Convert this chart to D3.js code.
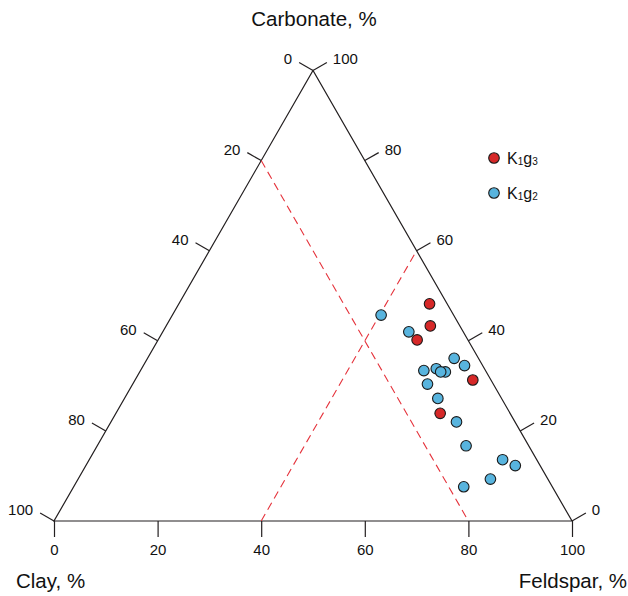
<!DOCTYPE html>
<html>
<head>
<meta charset="utf-8">
<script src="https://cdn.jsdelivr.net/npm/d3@7"></script>
<style>
  body { margin: 0; background: #fff; }
  svg { display: block; font-family: Arial, "Liberation Sans", sans-serif; }
</style>
</head>
<body>
<div id="chart"></div>
<script>
// [clay, feldspar, carbonate] in %
const k1g3 = [
  [3.4, 48.4, 48.2],
  [5.7, 51.0, 43.3],
  [9.8, 50.0, 40.2],
  [3.5, 65.2, 31.3],
  [13.5, 62.6, 23.9]
];
const k1g2 = [
  [14.0, 40.3, 45.7],
  [10.5, 47.5, 42.0],
  [4.7, 59.2, 36.1],
  [3.5, 62.0, 34.5],
  [11.9, 54.7, 33.4],
  [9.3, 56.9, 33.8],
  [7.9, 59.0, 33.1],
  [8.8, 58.1, 33.1],
  [12.7, 56.9, 30.4],
  [12.3, 60.5, 27.2],
  [11.3, 66.7, 22.0],
  [12.1, 71.2, 16.7],
  [6.6, 79.8, 13.6],
  [4.8, 82.9, 12.3],
  [11.1, 79.6, 9.3],
  [17.1, 75.3, 7.6]
];
const tickValues = [0, 20, 40, 60, 80, 100];
const clayGuide = 20;      // dashed line clay = 20
const feldsparGuide = 40;  // dashed line feldspar = 40

const width = 628, height = 596;
const svg = d3.select('#chart').append('svg').attr('width', width).attr('height', height);

// base: feldspar axis, height: carbonate
const xScale = d3.scaleLinear().domain([0, 100]).range([54, 572]);
const yScale = d3.scaleLinear().domain([0, 100]).range([521, 70.5]);

function proj(f, c) {
  return [xScale(f + c / 2), yScale(c)];
}

const lineColor = '#231f20';
const tickLen = 16;

// triangle
svg.append('path')
  .attr('d', d3.line()([proj(0, 0), proj(100, 0), proj(0, 100)]) + 'Z')
  .attr('fill', 'none').attr('stroke', lineColor).attr('stroke-width', 1.2);

// dashed guides
const guides = [
  [proj(0, 100 - clayGuide), proj(100 - clayGuide, 0)],
  [proj(feldsparGuide, 0), proj(feldsparGuide, 100 - feldsparGuide)]
];
svg.selectAll('.guide').data(guides).enter().append('path')
  .attr('class', 'guide')
  .attr('d', d => d3.line()(d))
  .attr('fill', 'none').attr('stroke', '#e5323b').attr('stroke-width', 1.1)
  .attr('stroke-dasharray', '8,5');

// bottom axis (feldspar)
const xAxis = d3.axisBottom(xScale).tickValues(tickValues).tickSize(tickLen).tickSizeOuter(0).tickPadding(7);
const gx = svg.append('g').attr('transform', 'translate(0,521)').call(xAxis);
gx.select('.domain').remove();
gx.selectAll('line').attr('stroke', lineColor).attr('stroke-width', 1.2);
gx.selectAll('text').attr('font-size', 15).attr('fill', '#111').attr('font-family', 'Arial, "Liberation Sans", sans-serif');

// side ticks
function sideAxis(points, normal, anchor, dx) {
  const g = svg.append('g');
  points.forEach(p => {
    const end = [p.pt[0] + normal[0] * tickLen, p.pt[1] + normal[1] * tickLen];
    g.append('line')
      .attr('x1', p.pt[0]).attr('y1', p.pt[1]).attr('x2', end[0]).attr('y2', end[1])
      .attr('stroke', lineColor).attr('stroke-width', 1.2);
    g.append('text')
      .attr('x', end[0] + dx).attr('y', end[1] - 2)
      .attr('text-anchor', anchor).attr('dominant-baseline', 'middle')
      .attr('font-size', 15).attr('fill', '#111')
      .text(p.label);
  });
}
const A = proj(0, 0), B = proj(100, 0), C = proj(0, 100);
function unit(v) { const l = Math.hypot(v[0], v[1]); return [v[0] / l, v[1] / l]; }
const leftDir = unit([C[0] - A[0], C[1] - A[1]]);
const rightDir = unit([C[0] - B[0], C[1] - B[1]]);
const leftNormal = [leftDir[1], -leftDir[0]];
const rightNormal = [-rightDir[1], rightDir[0]];

// left: clay
sideAxis(tickValues.map(v => ({pt: proj(0, 100 - v), label: v})), leftNormal, 'end', -7);
// right: carbonate
sideAxis(tickValues.map(v => ({pt: proj(100 - v, v), label: v})), rightNormal, 'start', 6);

// points
const series = [
  {name: 'K1g2', data: k1g2, color: '#58b4de'},
  {name: 'K1g3', data: k1g3, color: '#d62828'}
];
series.forEach(s => {
  svg.append('g').selectAll('circle').data(s.data).enter().append('circle')
    .attr('cx', d => proj(d[1], d[2])[0])
    .attr('cy', d => proj(d[1], d[2])[1])
    .attr('r', 5.3)
    .attr('fill', s.color)
    .attr('stroke', '#1a1a1a').attr('stroke-width', 1.1);
});

// titles
svg.append('text').attr('x', 314).attr('y', 26).attr('text-anchor', 'middle')
  .attr('font-size', 20.5).attr('fill', '#111').text('Carbonate, %');
svg.append('text').attr('x', 16).attr('y', 588).attr('text-anchor', 'start')
  .attr('font-size', 20.5).attr('fill', '#111').text('Clay, %');
svg.append('text').attr('x', 627).attr('y', 588).attr('text-anchor', 'end')
  .attr('font-size', 20.5).attr('fill', '#111').text('Feldspar, %');

// legend
const legendItems = [
  {sub: '3', color: '#d62828'},
  {sub: '2', color: '#58b4de'}
];
const legend = svg.append('g').attr('transform', 'translate(494,158)');
legendItems.forEach((d, i) => {
  const g = legend.append('g').attr('transform', `translate(0,${i * 35})`);
  g.append('circle').attr('r', 5.3).attr('fill', d.color)
    .attr('stroke', '#1a1a1a').attr('stroke-width', 1.1);
  const t = g.append('text').attr('x', 13).attr('y', 5.5).attr('font-size', 16).attr('fill', '#111');
  t.append('tspan').text('K');
  t.append('tspan').attr('font-size', 10).attr('dy', 1).text('1');
  t.append('tspan').attr('dy', -1).text('g');
  t.append('tspan').attr('font-size', 10).attr('dy', 1).text(d.sub);
});
</script>
</body>
</html>
